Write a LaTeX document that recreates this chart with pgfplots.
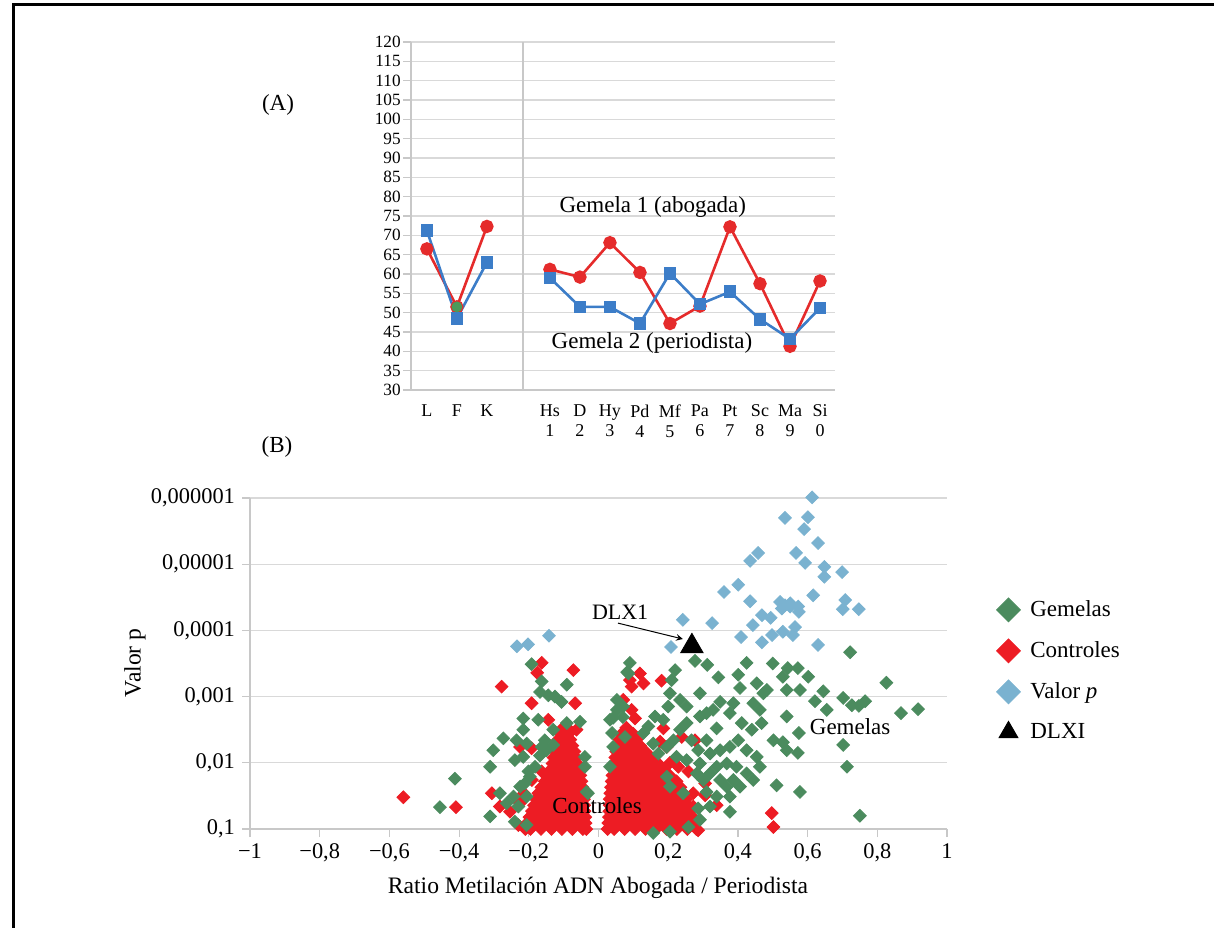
\documentclass[border=0pt]{standalone}
\usepackage{fontspec}
\setmainfont{Liberation Serif}
\usepackage{pgfplots}
\pgfplotsset{compat=1.18}
\definecolor{gem}{HTML}{4B8B5E}
\definecolor{ctl}{HTML}{ED1C24}
\definecolor{vp}{HTML}{7AB2D0}
\definecolor{lred}{HTML}{E52B2B}
\definecolor{lblue}{HTML}{3C7DC8}
\definecolor{gdot}{HTML}{4C9A5A}
\definecolor{gridc}{HTML}{D9D9D9}
\definecolor{axc}{HTML}{C8C8C8}
\pgfplotsset{diam/.style={only marks, mark=square*, mark size=2.25pt, mark options={rotate=45}}}
\begin{document}
\begin{tikzpicture}
\path[use as bounding box] (0,0) rectangle (607pt,-463.5pt);
\draw[line width=1.5pt] (6.75pt,-464pt) -- (6.75pt,-2.25pt) -- (608pt,-2.25pt);

% ---------------- Panel A ----------------
\begin{axis}[
  at={(205.5pt,-21pt)}, anchor=north west,
  scale only axis, width=212pt, height=174pt,
  xmin=0.47, xmax=14.6, ymin=30, ymax=120,
  ytick={30,35,...,120},
  xtick={1,2,3,5.1,6.1,7.1,8.1,9.1,10.1,11.1,12.1,13.1,14.1},
  xticklabels={L,F,K,{Hs\\1},{D\\2},{Hy\\3},{Pd\\4},{Mf\\5},{Pa\\6},{Pt\\7},{Sc\\8},{Ma\\9},{Si\\0}},
  xticklabel style={align=center, font=\fontsize{9}{10}\selectfont},
  yticklabel style={font=\fontsize{8.6}{9}\selectfont, /pgf/number format/assume math mode=true, inner sep=1pt},
  axis lines=left, axis line style={axc, line width=0.6pt, -},
  ymajorgrids, grid style={gridc, line width=0.6pt},
  tick align=outside, major tick length=4pt,
  xtick style={draw=none}, ytick style={axc, line width=0.6pt},
  unbounded coords=jump, clip=false,
]
\addplot[axc, line width=0.6pt, forget plot] coordinates {(4.2,30) (4.2,120)};
\addplot[lred, line width=1.3pt, mark=*, mark size=2.7pt] coordinates {
 (1,66.5) (2,51.5) (3,72.3) (4.2,nan)
 (5.1,61.2) (6.1,59.2) (7.1,68.1) (8.1,60.4) (9.1,47.2) (10.1,51.7)
 (11.1,72.2) (12.1,57.5) (13.1,41.3) (14.1,58.2)};
\addplot[lblue, line width=1.3pt, mark=square*, mark size=2.5pt] coordinates {
 (1,71.2) (2,48.5) (3,63.0) (4.2,nan)
 (5.1,59.0) (6.1,51.5) (7.1,51.5) (8.1,47.2) (9.1,60.2) (10.1,52.2)
 (11.1,55.4) (12.1,48.3) (13.1,43.2) (14.1,51.2)};
\addplot[only marks, mark=*, mark size=2.5pt, gdot] coordinates {(2,51.5)};
\node[font=\fontsize{11.5}{13}\selectfont] at (axis cs:8.53,77.3) {Gemela 1 (abogada)};
\node[font=\fontsize{11.5}{13}\selectfont] at (axis cs:8.5,42.2) {Gemela 2 (periodista)};
\end{axis}

% ---------------- Panel B ----------------
\begin{axis}[
  at={(125pt,-249pt)}, anchor=north west,
  scale only axis, width=348.5pt, height=165.5pt,
  xmin=-1, xmax=1, ymin=1, ymax=6,
  xtick={-1,-0.8,-0.6,-0.4,-0.2,0,0.2,0.4,0.6,0.8,1},
  xticklabels={{−1},{−0,8},{−0,6},{−0,4},{−0,2},{0},{0,2},{0,4},{0,6},{0,8},{1}},
  ytick={1,2,3,4,5,6},
  yticklabels={{0,1},{0,01},{0,001},{0,0001},{0,00001},{0,000001}},
  tick label style={font=\fontsize{11.2}{12}\selectfont},
  axis lines=left, axis line style={axc, line width=0.6pt, -},
  ymajorgrids, grid style={gridc, line width=0.6pt},
  tick align=outside, major tick length=4pt, tick style={axc, line width=0.6pt},
  clip=false,
  legend style={at={(axis description cs:1.062,0.716)}, anchor=north west, draw=none, fill=none,
    font=\fontsize{11.5}{13}\selectfont, row sep=7pt,
    /tikz/every odd column/.append style={column sep=3pt}},
  legend cell align=left,
]
% Controles (dense clusters + scattered)
\addplot[diam, ctl, forget plot] coordinates {
(-0.210,1.00)(-0.195,1.00)(-0.165,1.00)(-0.135,1.00)(-0.105,1.00)(-0.075,1.00)(-0.045,1.00)(-0.035,1.00)
(-0.205,1.09)(-0.180,1.09)(-0.150,1.09)(-0.120,1.09)(-0.090,1.09)(-0.060,1.09)(-0.037,1.09)
(-0.198,1.18)(-0.165,1.18)(-0.135,1.18)(-0.105,1.18)(-0.075,1.18)(-0.045,1.18)(-0.038,1.18)
(-0.191,1.27)(-0.180,1.27)(-0.150,1.27)(-0.120,1.27)(-0.090,1.27)(-0.060,1.27)(-0.040,1.27)
(-0.185,1.36)(-0.165,1.36)(-0.135,1.36)(-0.105,1.36)(-0.075,1.36)(-0.045,1.36)(-0.041,1.36)
(-0.179,1.45)(-0.150,1.45)(-0.120,1.45)(-0.090,1.45)(-0.060,1.45)(-0.042,1.45)
(-0.173,1.54)(-0.165,1.54)(-0.135,1.54)(-0.105,1.54)(-0.075,1.54)(-0.045,1.54)
(-0.164,1.63)(-0.150,1.63)(-0.120,1.63)(-0.090,1.63)(-0.060,1.63)(-0.046,1.63)
(-0.154,1.72)(-0.135,1.72)(-0.105,1.72)(-0.075,1.72)(-0.049,1.72)
(-0.146,1.81)(-0.120,1.81)(-0.090,1.81)(-0.060,1.81)(-0.052,1.81)
(-0.137,1.90)(-0.105,1.90)(-0.075,1.90)(-0.056,1.90)
(-0.132,1.99)(-0.120,1.99)(-0.090,1.99)(-0.061,1.99)
(-0.129,2.08)(-0.105,2.08)(-0.075,2.08)(-0.065,2.08)
(-0.124,2.17)(-0.090,2.17)(-0.069,2.17)
(-0.120,2.26)(-0.105,2.26)(-0.075,2.26)
(-0.116,2.35)(-0.090,2.35)(-0.081,2.35)
(-0.109,2.44)(-0.085,2.44)
(-0.102,2.53)(-0.090,2.53)
(0.026,1.00)(0.045,1.00)(0.075,1.00)(0.105,1.00)(0.135,1.00)(0.165,1.00)(0.195,1.00)(0.225,1.00)(0.255,1.00)(0.281,1.00)
(0.028,1.09)(0.060,1.09)(0.090,1.09)(0.120,1.09)(0.150,1.09)(0.180,1.09)(0.210,1.09)(0.240,1.09)(0.270,1.09)(0.277,1.09)
(0.030,1.18)(0.045,1.18)(0.075,1.18)(0.105,1.18)(0.135,1.18)(0.165,1.18)(0.195,1.18)(0.225,1.18)(0.255,1.18)(0.270,1.18)
(0.031,1.27)(0.060,1.27)(0.090,1.27)(0.120,1.27)(0.150,1.27)(0.180,1.27)(0.210,1.27)(0.240,1.27)(0.263,1.27)
(0.032,1.36)(0.045,1.36)(0.075,1.36)(0.105,1.36)(0.135,1.36)(0.165,1.36)(0.195,1.36)(0.225,1.36)(0.256,1.36)
(0.032,1.45)(0.060,1.45)(0.090,1.45)(0.120,1.45)(0.150,1.45)(0.180,1.45)(0.210,1.45)(0.240,1.45)(0.251,1.45)
(0.034,1.54)(0.045,1.54)(0.075,1.54)(0.105,1.54)(0.135,1.54)(0.165,1.54)(0.195,1.54)(0.225,1.54)(0.244,1.54)
(0.036,1.63)(0.060,1.63)(0.090,1.63)(0.120,1.63)(0.150,1.63)(0.180,1.63)(0.210,1.63)(0.235,1.63)
(0.038,1.72)(0.045,1.72)(0.075,1.72)(0.105,1.72)(0.135,1.72)(0.165,1.72)(0.195,1.72)(0.224,1.72)
(0.040,1.81)(0.060,1.81)(0.090,1.81)(0.120,1.81)(0.150,1.81)(0.180,1.81)(0.204,1.81)
(0.042,1.90)(0.075,1.90)(0.105,1.90)(0.135,1.90)(0.165,1.90)(0.187,1.90)
(0.045,1.99)(0.060,1.99)(0.090,1.99)(0.120,1.99)(0.150,1.99)(0.171,1.99)
(0.048,2.08)(0.075,2.08)(0.105,2.08)(0.135,2.08)(0.151,2.08)
(0.051,2.17)(0.060,2.17)(0.090,2.17)(0.120,2.17)(0.135,2.17)
(0.056,2.26)(0.075,2.26)(0.105,2.26)(0.119,2.26)
(0.060,2.35)(0.090,2.35)(0.109,2.35)
(0.066,2.44)(0.099,2.44)
(0.080,2.53)
(-0.560,1.48)(-0.409,1.33)
(-0.163,3.51)(-0.176,3.36)(-0.072,3.40)(-0.278,3.15)(-0.192,2.90)(-0.067,2.90)
(-0.144,2.65)(-0.106,2.45)(-0.063,2.50)(-0.225,2.24)(-0.192,2.22)(-0.163,1.87)
(-0.306,1.54)(-0.283,1.34)(-0.225,1.39)(-0.254,1.26)(-0.230,1.06)(-0.096,2.34)
(-0.214,1.54)(-0.191,1.74)
(0.119,3.35)(0.129,3.20)(0.095,3.15)(0.181,3.24)(0.071,2.95)(0.095,2.80)
(0.105,2.67)(0.186,2.52)(0.239,2.39)(0.277,2.34)(0.177,2.32)(0.229,1.94)
(0.258,1.87)(0.306,1.69)(0.272,1.54)(0.306,1.51)(0.339,1.36)(0.272,1.34)
(0.497,1.24)(0.502,1.03)(0.286,0.98)(0.090,3.25)(0.196,2.24)(0.205,2.00)
};
% Gemelas
\addplot[diam, gem, forget plot] coordinates {
(0.722,3.67)(0.826,3.21)(0.868,2.75)(0.917,2.81)(0.765,2.93)(0.747,2.86)
(0.727,2.87)(0.702,2.98)(0.655,2.80)(0.645,3.08)(0.621,2.93)(0.602,3.30)
(0.578,3.10)(0.572,3.43)(0.543,3.43)(0.529,3.30)(0.575,2.45)(0.529,2.31)
(0.572,2.15)(0.702,2.27)(0.713,1.94)(0.750,1.20)(0.578,1.56)(0.053,2.95)(0.033,2.65)
(0.090,3.51)(0.086,3.35)(0.220,3.40)(0.210,3.25)(0.277,3.54)(0.312,3.48)
(0.344,3.29)(0.425,3.51)(0.500,3.50)(0.401,3.33)(0.454,3.20)(0.483,3.10)
(0.540,3.10)(0.406,3.13)(0.349,2.92)(0.291,3.05)(0.205,3.05)(0.234,2.95)
(0.253,2.85)(0.200,2.85)(0.162,2.70)(0.186,2.65)(0.291,2.70)(0.310,2.75)
(0.329,2.80)(0.339,2.52)(0.377,2.75)(0.387,2.90)(0.411,2.60)(0.444,2.90)
(0.463,2.80)(0.473,3.05)(0.440,2.50)(0.468,2.60)(0.502,2.34)(0.540,2.70)
(0.540,2.19)(0.234,2.50)(0.253,2.60)(0.267,2.34)(0.310,2.34)(0.286,2.19)
(0.215,2.34)(0.196,2.24)(0.157,2.29)(0.129,2.45)(0.143,2.55)(0.172,2.14)
(0.224,2.09)(0.253,2.04)(0.291,1.99)(0.320,2.14)(0.349,2.19)(0.377,2.24)
(0.401,2.34)(0.425,2.19)(0.454,2.09)(0.463,1.94)(0.425,1.84)(0.396,1.94)
(0.368,1.99)(0.339,1.94)(0.320,1.84)(0.349,1.74)(0.387,1.74)(0.406,1.64)
(0.444,1.74)(0.301,1.74)(0.282,1.84)(0.310,1.56)(0.339,1.49)(0.368,1.64)
(0.377,1.49)(0.320,1.34)(0.377,1.26)(0.286,1.31)(0.291,1.14)(0.258,1.03)
(0.205,0.96)(0.157,0.94)(0.511,1.66)(0.196,1.79)(0.205,1.64)(0.243,1.54)
(0.076,2.39)(0.071,2.85)
(0.082,3.37)(0.053,2.80)(0.042,2.68)(0.070,2.69)(0.039,2.45)(0.042,2.24)(0.033,1.94)
(-0.192,3.49)(-0.163,3.23)(-0.168,3.07)(-0.144,3.02)(-0.125,3.00)(-0.106,2.92)
(-0.091,3.18)(-0.216,2.67)(-0.173,2.65)(-0.091,2.60)(-0.053,2.62)(-0.130,2.50)
(-0.273,2.37)(-0.302,2.19)(-0.216,2.50)(-0.235,2.34)(-0.206,2.29)(-0.154,2.34)
(-0.149,2.19)(-0.168,2.11)(-0.182,1.94)(-0.216,2.09)(-0.240,2.04)(-0.311,1.94)
(-0.197,1.79)(-0.225,1.64)(-0.244,1.49)(-0.283,1.54)(-0.263,1.39)(-0.230,1.34)
(-0.206,1.49)(-0.311,1.19)(-0.240,1.11)(-0.206,1.06)(-0.034,1.56)(-0.039,2.09)
(-0.163,2.24)(-0.130,2.27)(-0.201,1.87)(-0.211,1.69)
(-0.455,1.33)(-0.412,1.76)(-0.039,1.94)(-0.030,1.54)
};
% Valor p
\addplot[diam, vp, forget plot] coordinates {
(0.613,6.01)(0.535,5.70)(0.601,5.71)(0.590,5.53)(0.630,5.32)(0.458,5.17)
(0.435,5.05)(0.567,5.17)(0.593,5.02)(0.648,4.96)(0.648,4.81)(0.699,4.88)
(0.401,4.69)(0.360,4.58)(0.435,4.44)(0.616,4.53)
(0.521,4.43)(0.535,4.38)(0.550,4.36)(0.526,4.33)(0.573,4.36)(0.575,4.28)(0.550,4.41)
(0.708,4.46)(0.701,4.32)(0.747,4.32)(0.469,4.23)(0.494,4.19)(0.443,4.08)
(0.326,4.11)(0.242,4.16)(0.564,4.05)(0.529,3.98)(0.558,3.93)(0.498,3.93)
(0.409,3.90)(0.469,3.82)(0.630,3.78)(0.208,3.75)
(-0.234,3.76)(-0.202,3.79)(-0.142,3.92)
};
% DLX1
\addplot[only marks, mark=triangle*, mark size=6.5pt, black, forget plot] coordinates {(0.268,3.76)};

\addlegendimage{only marks, mark=square*, mark size=4.2pt, mark options={rotate=45}, gem}
\addlegendentry{Gemelas}
\addlegendimage{only marks, mark=square*, mark size=4.2pt, mark options={rotate=45}, ctl}
\addlegendentry{Controles}
\addlegendimage{only marks, mark=square*, mark size=4.2pt, mark options={rotate=45}, vp}
\addlegendentry{Valor \textit{p}}
\addlegendimage{only marks, mark=triangle*, mark size=5.5pt, black}
\addlegendentry{DLXI}

\coordinate (dlxlab) at (axis cs:0.062,4.28);
\coordinate (arrA) at (axis cs:0.056,4.11);
\coordinate (arrB) at (axis cs:0.242,3.87);
\coordinate (gemlab) at (axis cs:0.722,2.54);
\coordinate (ctllab) at (axis cs:-0.004,1.36);
\end{axis}

\node[font=\fontsize{11}{13}\selectfont] at (dlxlab) {DLX1};
\draw[-stealth, line width=0.5pt] (arrA) -- (arrB);
\node[font=\fontsize{11.5}{13}\selectfont] at (gemlab) {Gemelas};
\node[font=\fontsize{11.5}{13}\selectfont] at (ctllab) {Controles};

\node[font=\fontsize{11.5}{13}\selectfont] at (139pt,-52.5pt) {(A)};
\node[font=\fontsize{11.5}{13}\selectfont] at (138.5pt,-223.5pt) {(B)};
\node[rotate=90, font=\fontsize{11.8}{13}\selectfont] at (67.5pt,-331.5pt) {Valor p};
\node[font=\fontsize{11.8}{13}\selectfont] at (299pt,-444pt) {Ratio Metilación ADN Abogada / Periodista};
\end{tikzpicture}
\end{document}
